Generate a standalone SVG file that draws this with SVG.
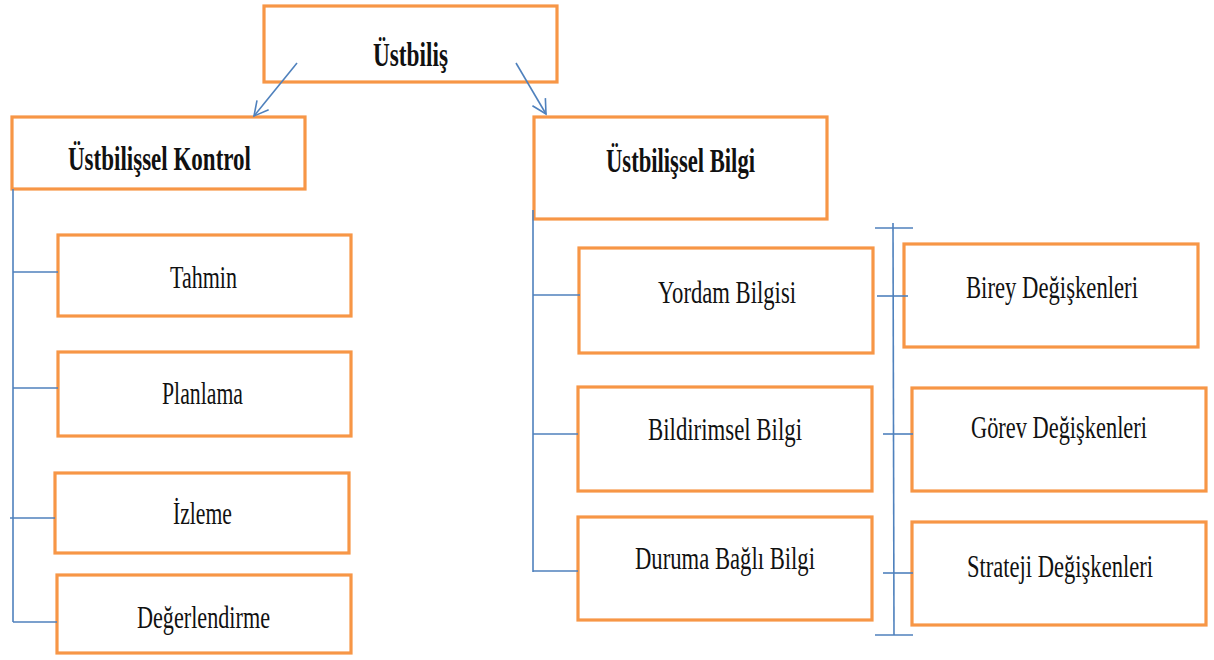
<svg xmlns="http://www.w3.org/2000/svg" width="1214" height="660" viewBox="0 0 1214 660">
<defs>
<style>
.box{fill:#ffffff;stroke:#f79646;stroke-width:3.2}
.ln{stroke:#4f81bd;stroke-width:1.6;fill:none}
.t{font-family:"Liberation Serif","Times New Roman",serif;font-size:31px;fill:#111}
.b{font-weight:bold;font-size:33px}
</style>
<marker id="ah" markerWidth="18" markerHeight="18" refX="15" refY="9" orient="auto" markerUnits="userSpaceOnUse">
<path d="M1,1.5 L15,9 L1,16.5" fill="none" stroke="#4f81bd" stroke-width="1.6"/>
</marker>
</defs>
<rect width="1214" height="660" fill="#ffffff"/>
<g id="n-ustbilis">
<rect class="box" x="264" y="6" width="293" height="76"/>
<text class="t b" transform="scale(0.7,1)" x="532.86" y="66" textLength="107.14" lengthAdjust="spacingAndGlyphs">Üstbiliş</text>
</g>
<g id="n-kontrol">
<rect class="box" x="12" y="117" width="293" height="72"/>
<text class="t b" transform="scale(0.7,1)" x="97.14" y="170" textLength="261.43" lengthAdjust="spacingAndGlyphs">Üstbilişsel Kontrol</text>
</g>
<g id="n-tahmin">
<rect class="box" x="58" y="235" width="293" height="81"/>
<text class="t" transform="scale(0.7,1)" x="242.86" y="288" textLength="95.71" lengthAdjust="spacingAndGlyphs">Tahmin</text>
</g>
<g id="n-planlama">
<rect class="box" x="58" y="352" width="293" height="84"/>
<text class="t" transform="scale(0.7,1)" x="231.43" y="404" textLength="115.71" lengthAdjust="spacingAndGlyphs">Planlama</text>
</g>
<g id="n-izleme">
<rect class="box" x="55" y="473" width="294" height="80"/>
<text class="t" transform="scale(0.7,1)" x="247.14" y="524" textLength="84.29" lengthAdjust="spacingAndGlyphs">İzleme</text>
</g>
<g id="n-degerlendirme">
<rect class="box" x="57" y="575" width="294" height="78"/>
<text class="t" transform="scale(0.7,1)" x="195.71" y="628" textLength="190" lengthAdjust="spacingAndGlyphs">Değerlendirme</text>
</g>
<g id="n-bilgi">
<rect class="box" x="534" y="117" width="293" height="102"/>
<text class="t b" transform="scale(0.7,1)" x="865.71" y="172" textLength="212.86" lengthAdjust="spacingAndGlyphs">Üstbilişsel Bilgi</text>
</g>
<g id="n-yordam">
<rect class="box" x="579" y="248" width="294" height="105"/>
<text class="t" transform="scale(0.7,1)" x="940" y="303" textLength="197.14" lengthAdjust="spacingAndGlyphs">Yordam Bilgisi</text>
</g>
<g id="n-bildirimsel">
<rect class="box" x="578" y="387" width="294" height="104"/>
<text class="t" transform="scale(0.7,1)" x="925.71" y="440" textLength="220" lengthAdjust="spacingAndGlyphs">Bildirimsel Bilgi</text>
</g>
<g id="n-duruma">
<rect class="box" x="578" y="517" width="294" height="103"/>
<text class="t" transform="scale(0.7,1)" x="907.14" y="569" textLength="257.14" lengthAdjust="spacingAndGlyphs">Duruma Bağlı Bilgi</text>
</g>
<g id="n-birey">
<rect class="box" x="904" y="244" width="294" height="103"/>
<text class="t" transform="scale(0.7,1)" x="1380" y="298" textLength="245.71" lengthAdjust="spacingAndGlyphs">Birey Değişkenleri</text>
</g>
<g id="n-gorev">
<rect class="box" x="912" y="388" width="294" height="103"/>
<text class="t" transform="scale(0.7,1)" x="1387.14" y="438" textLength="251.43" lengthAdjust="spacingAndGlyphs">Görev Değişkenleri</text>
</g>
<g id="n-strateji">
<rect class="box" x="912" y="522" width="294" height="103"/>
<text class="t" transform="scale(0.7,1)" x="1381.43" y="577" textLength="265.71" lengthAdjust="spacingAndGlyphs">Strateji Değişkenleri</text>
</g>
<g id="connectors">
<line class="ln" x1="297" y1="63" x2="254" y2="116" marker-end="url(#ah)"/>
<line class="ln" x1="516" y1="63" x2="546" y2="114" marker-end="url(#ah)"/>
<line class="ln" x1="13" y1="189" x2="13" y2="622"/>
<line class="ln" x1="13" y1="272" x2="58" y2="272"/>
<line class="ln" x1="13" y1="388" x2="58" y2="388"/>
<line class="ln" x1="10" y1="518" x2="55" y2="518"/>
<line class="ln" x1="13" y1="622" x2="57" y2="622"/>
<line class="ln" x1="533" y1="210" x2="533" y2="572"/>
<line class="ln" x1="533" y1="295" x2="580" y2="295"/>
<line class="ln" x1="533" y1="434" x2="578" y2="434"/>
<line class="ln" x1="533" y1="571" x2="578" y2="571"/>
<line class="ln" x1="893" y1="223" x2="894" y2="635"/>
<line class="ln" x1="875" y1="228" x2="913" y2="228"/>
<line class="ln" x1="875" y1="635" x2="913" y2="635"/>
<line class="ln" x1="877" y1="296" x2="908" y2="296"/>
<line class="ln" x1="883" y1="434" x2="913" y2="434"/>
<line class="ln" x1="883" y1="573" x2="913" y2="573"/>
</g>
</svg>
